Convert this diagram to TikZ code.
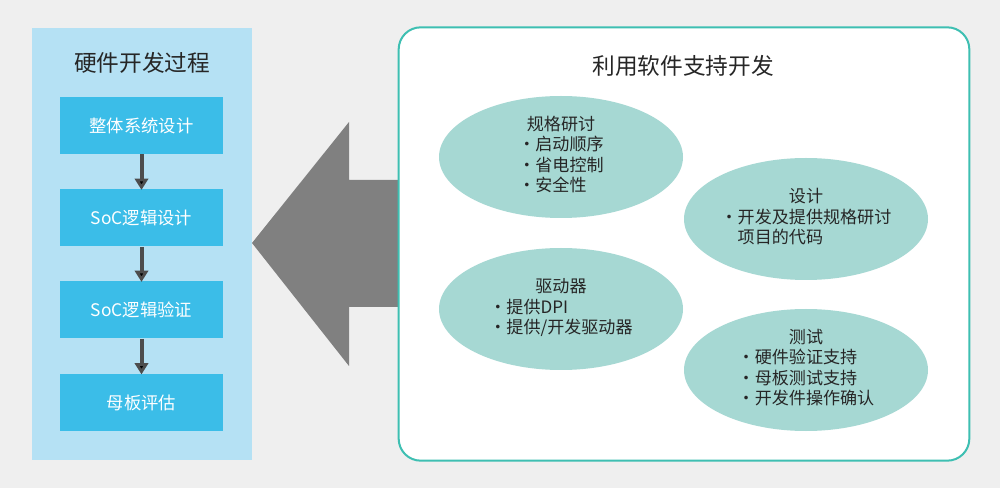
\documentclass[tikz,border=0pt]{standalone}
\usepackage{fontspec}
\setmainfont{Noto Sans CJK SC}
\usepackage{xcolor}
\usetikzlibrary{arrows.meta,shapes.geometric}
\definecolor{pagegray}{HTML}{EFEFEF}
\definecolor{panelblue}{HTML}{B5E1F4}
\definecolor{stepblue}{HTML}{3BBDE8}
\definecolor{flowgray}{HTML}{4D4D4D}
\definecolor{bigarrowgray}{HTML}{808080}
\definecolor{swteal}{HTML}{3EBFB2}
\definecolor{bubblegreen}{HTML}{A6D8D3}
\newcommand{\bubbletext}[2]{\raisebox{-2.5pt}{\begin{tabular}{@{}l@{}}\multicolumn{1}{c}{#1}\\#2\end{tabular}}}

\begin{document}
\begin{tikzpicture}[x=0.75pt,y=-0.75pt,
	panel/.style={shape=rectangle,fill=panelblue,minimum width=165pt,minimum height=324pt,inner sep=0pt},
	stepbox/.style={shape=rectangle,fill=stepblue,text=white,minimum width=122.25pt,minimum height=42.75pt,font=\fontsize{13}{15}\selectfont},
	heading/.style={font=\fontsize{17}{20}\selectfont,text=black!85},
	flow/.style={-{Triangle[width=10pt,length=8.5pt]},draw=flowgray,line width=3pt,shorten >=-0.5pt},
	swbox/.style={shape=rectangle,draw=swteal,line width=1.5pt,fill=white,rounded corners=16.5pt,minimum width=428pt,minimum height=325pt},
	bubble/.style={shape=ellipse,fill=bubblegreen,minimum width=183pt,minimum height=91.5pt,inner sep=0pt,text=black!85,font=\fontsize{12.8}{15.2}\selectfont}]
	\fill[pagegray] (0,0) rectangle (1000,488);
	\useasboundingbox (0,0) rectangle (1000,488);
	
	% hardware side
	\node[panel] (hw) at (142,244) {};
	\node[heading] (hw-title) at (142,63) {硬件开发过程};
	\node[stepbox] (s1) at (141.5,125.5) {整体系统设计};
	\node[stepbox] (s2) at (141.5,218) {SoC逻辑设计};
	\node[stepbox] (s3) at (141.5,310) {SoC逻辑验证};
	\node[stepbox] (s4) at (141.5,402.5) {母板评估};
	\path[flow] (s1) edge (s2);
	\path[flow] (s2) edge (s3);
	\path[flow] (s3) edge (s4);
	
	% big arrow
	\fill[bigarrowgray] (252,243) -- (349,122) -- (349,180) -- (399,180) -- (399,307) -- (349,307) -- (349,366) -- cycle;
	
	% software side
	\node[swbox] (sw) at (684,244) {};
	\node[heading] (sw-title) at (683,66) {利用软件支持开发};
	\node[bubble] (spec) at (561,157) {\bubbletext{规格研讨}{・启动顺序\\・省电控制\\・安全性}};
	\node[bubble] (design) at (806,219) {\bubbletext{设计}{・开发及提供规格研讨\\　项目的代码}};
	\node[bubble] (driver) at (561,309) {\bubbletext{驱动器}{・提供DPI\\・提供/开发驱动器}};
	\node[bubble] (test) at (806,370) {\bubbletext{测试}{・硬件验证支持\\・母板测试支持\\・开发件操作确认}};
\end{tikzpicture}
\end{document}
